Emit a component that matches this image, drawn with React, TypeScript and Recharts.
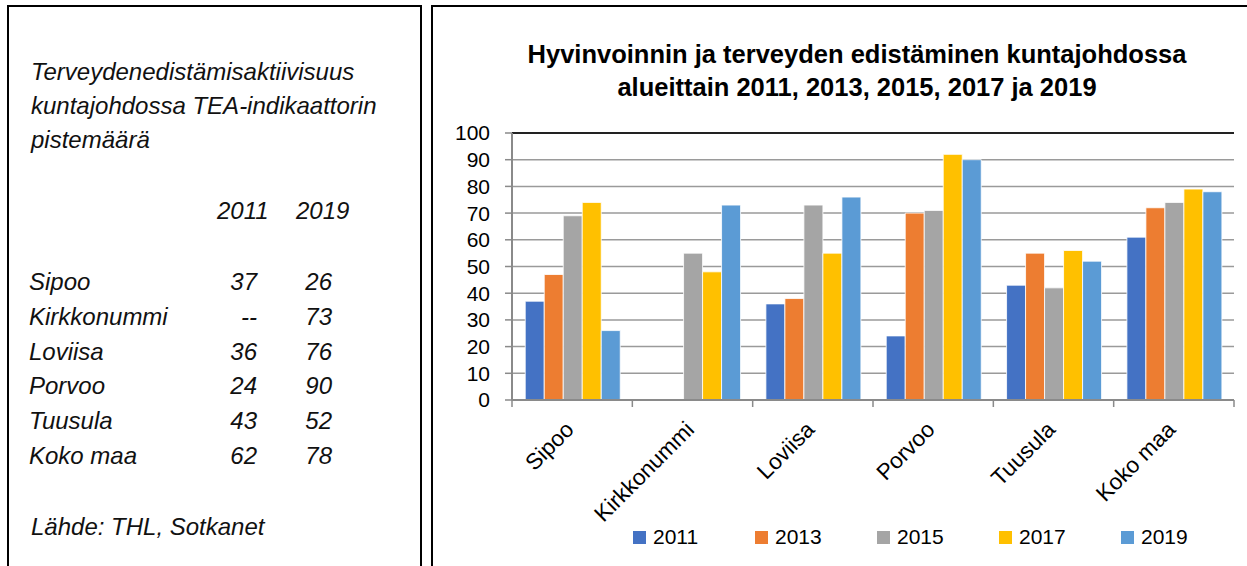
import React from 'react';
import { BarChart, Bar, XAxis, YAxis, CartesianGrid, ReferenceLine } from 'recharts';

const categories = ['Sipoo', 'Kirkkonummi', 'Loviisa', 'Porvoo', 'Tuusula', 'Koko maa'];
const years = ['2011', '2013', '2015', '2017', '2019'];
const colors = ['#4472C4', '#ED7D31', '#A5A5A5', '#FFC000', '#5B9BD5'];

const v2011 = [37, null, 36, 24, 43, 61];
const v2013 = [47, null, 38, 70, 55, 72];
const v2015 = [69, 55, 73, 71, 42, 74];
const v2017 = [74, 48, 55, 92, 56, 79];
const v2019 = [26, 73, 76, 90, 52, 78];

const yTicks = [0, 10, 20, 30, 40, 50, 60, 70, 80, 90, 100];

const tableTitle = ['Terveydenedistämisaktiivisuus', 'kuntajohdossa TEA-indikaattorin', 'pistemäärä'];
const tableRows = ['Sipoo', 'Kirkkonummi', 'Loviisa', 'Porvoo', 'Tuusula', 'Koko maa'];
const table2011 = ['37', '--', '36', '24', '43', '62'];
const table2019 = ['26', '73', '76', '90', '52', '78'];

const seriesValues = [v2011, v2013, v2015, v2017, v2019];
const data = categories.map((name, i) => {
    const row: any = { name };
    years.forEach((y, k) => {
        row[y] = seriesValues[k][i];
    });
    return row;
});

const CHART_W = 815;
const CHART_H = 566;
const Y_W = 80;
const RIGHT = 13;
const bandWidth = (CHART_W - Y_W - RIGHT) / categories.length;

const font = "'Liberation Sans', Arial, sans-serif";

const CategoryTick = ({ x, y, payload, index }: any) => {
    const axisY = y - 8;
    return (
        <g>
            <line x1={x - bandWidth / 2} y1={axisY} x2={x - bandWidth / 2} y2={axisY + 7} stroke="#8a8a8a" strokeWidth={1.5} />
            {index === categories.length - 1 && (
                <line x1={x + bandWidth / 2} y1={axisY} x2={x + bandWidth / 2} y2={axisY + 7} stroke="#8a8a8a" strokeWidth={1.5} />
            )}
            <text x={x + 3} y={axisY + 31} transform={`rotate(-45, ${x + 3}, ${axisY + 31})`} textAnchor="end" fill="#000" fontSize={22.5} fontFamily={font}>
                {payload.value}
            </text>
        </g>
    );
};

const italic: React.CSSProperties = { position: 'absolute', fontStyle: 'italic', fontSize: 24, lineHeight: '34px', fontFamily: font, color: '#111', whiteSpace: 'nowrap' };

const App = () => {
    return (
        <div style={{ position: 'absolute', left: 0, top: 0, width: 1247, height: 566, overflow: 'hidden', background: '#fff' }}>
            {/* left text panel */}
            <div style={{ position: 'absolute', left: 7, top: 5, width: 415, height: 600, border: '2px solid #000', boxSizing: 'border-box' }} />
            {tableTitle.map((t, i) => (
                <div key={t} style={{ ...italic, left: 31, top: 55 + i * 34 }}>{t}</div>
            ))}
            <div style={{ ...italic, left: 217, top: 194 }}>2011</div>
            <div style={{ ...italic, left: 296, top: 194 }}>2019</div>
            {tableRows.map((r, i) => (
                <React.Fragment key={r}>
                    <div style={{ ...italic, left: 29, top: 265 + i * 34.8 }}>{r}</div>
                    <div style={{ ...italic, left: 197, width: 60, textAlign: 'right', top: 265 + i * 34.8 }}>{table2011[i]}</div>
                    <div style={{ ...italic, left: 272, width: 60, textAlign: 'right', top: 265 + i * 34.8 }}>{table2019[i]}</div>
                </React.Fragment>
            ))}
            <div style={{ ...italic, left: 31, top: 510 }}>Lähde: THL, Sotkanet</div>

            {/* right chart panel */}
            <div style={{ position: 'absolute', left: 431, top: 5, width: 830, height: 600, border: '2px solid #000', boxSizing: 'border-box' }} />
            <div style={{ position: 'absolute', left: 432, top: 38, width: 850, textAlign: 'center', fontFamily: font, fontWeight: 700, fontSize: 25.5, lineHeight: '33px', color: '#000' }}>
                <div>Hyvinvoinnin ja terveyden edistäminen kuntajohdossa</div>
                <div>alueittain 2011, 2013, 2015, 2017 ja 2019</div>
            </div>
            <div style={{ position: 'absolute', left: 432, top: 0 }}>
                <BarChart width={CHART_W} height={CHART_H} data={data} margin={{ top: 133, right: RIGHT, bottom: 0, left: 0 }} barCategoryGap="11%" barGap={0}>
                    <CartesianGrid vertical={false} stroke="#9a9a9a" strokeWidth={1.5} />
                    <XAxis dataKey="name" height={166} interval={0} axisLine={{ stroke: '#8a8a8a', strokeWidth: 2 }} tickLine={false} tick={<CategoryTick />} />
                    <YAxis domain={[0, 100]} ticks={yTicks} width={Y_W} interval={0} axisLine={{ stroke: '#8a8a8a', strokeWidth: 2 }} tickLine={{ stroke: '#8a8a8a', strokeWidth: 1.5 }} tickSize={7} tickMargin={15} tick={{ fill: '#000', fontSize: 21, fontFamily: font }} />
                    <YAxis yAxisId="r" orientation="right" domain={[0, 100]} width={0} tick={false} tickLine={false} axisLine={{ stroke: '#222', strokeWidth: 2 }} />
                    <ReferenceLine y={100} stroke="#222" strokeWidth={2} />
                    {years.map((y, k) => (
                        <Bar key={y} dataKey={y} fill={colors[k]} stroke="#fff" strokeWidth={0.8} isAnimationActive={false} />
                    ))}
                </BarChart>
            </div>
            {/* legend */}
            <div style={{ position: 'absolute', left: 633, top: 522, display: 'flex', fontFamily: font, fontSize: 21, lineHeight: '30px' }}>
                {years.map((y, k) => (
                    <div key={y} style={{ width: 122, display: 'flex', alignItems: 'center' }}>
                        <span style={{ display: 'inline-block', width: 13, height: 13, background: colors[k], marginRight: 7 }} />
                        <span>{y}</span>
                    </div>
                ))}
            </div>
        </div>
    );
};

export default App;
